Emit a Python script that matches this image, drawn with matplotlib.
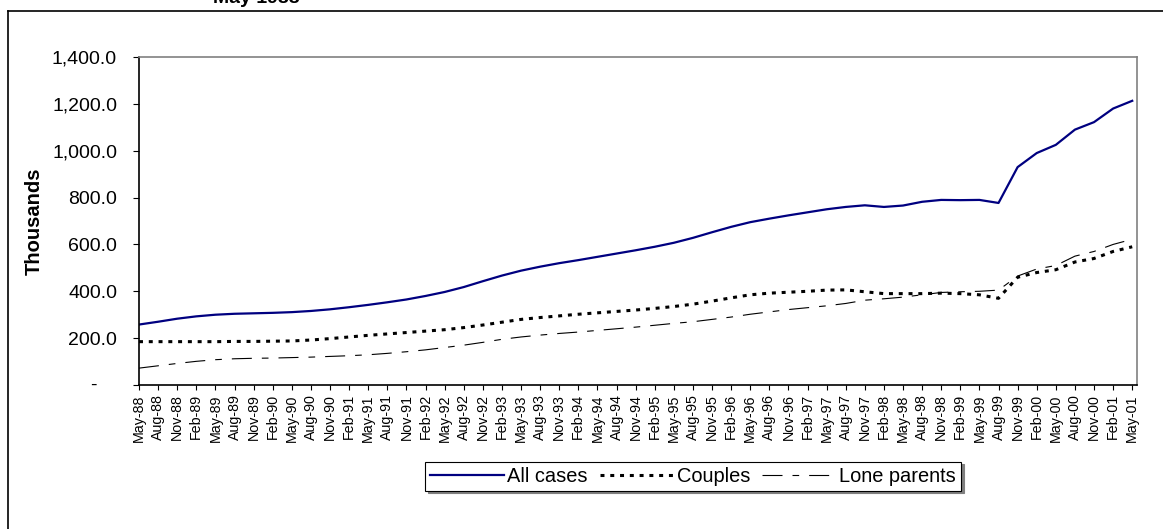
import matplotlib
matplotlib.use('Agg')
import matplotlib.pyplot as plt
from matplotlib.lines import Line2D
from matplotlib.ticker import FixedLocator, FixedFormatter

plt.rcParams['font.family'] = ['Liberation Sans', 'DejaVu Sans']

# quarterly points, May-88 to May-01
months = ['May', 'Aug', 'Nov', 'Feb']
quarters = []
for k in range(53):
    m = months[k % 4]
    yr = 88 + (k + 1) // 4 if m == 'Feb' else 88 + k // 4
    quarters.append(f'{m}-{yr % 100:02d}')

# thousands
all_cases = [258, 270, 283, 293, 300, 304, 306, 308, 311, 316,
             323, 332, 342, 353, 365, 380, 397, 418, 443, 467,
             488, 505, 520, 533, 547, 561, 575, 590, 607, 628,
             652, 675, 695, 710, 724, 737, 750, 760, 767, 760,
             766, 782, 790, 789, 790, 777, 930, 990, 1025, 1090,
             1122, 1180, 1213]
couples = [185, 185, 185, 185, 185, 186, 186, 187, 188, 192,
           198, 205, 212, 218, 224, 230, 236, 245, 256, 268,
           280, 288, 295, 302, 308, 314, 320, 327, 335, 345,
           358, 372, 385, 392, 396, 400, 405, 406, 398, 390,
           390, 390, 392, 390, 385, 370, 460, 480, 492, 525,
           540, 570, 590]
lone_parents = [72, 82, 92, 101, 108, 112, 114, 115, 117, 119,
                122, 125, 129, 135, 142, 150, 160, 170, 182, 195,
                205, 213, 220, 226, 233, 240, 247, 255, 263, 270,
                280, 290, 302, 312, 322, 330, 338, 348, 362, 368,
                375, 385, 395, 398, 400, 405, 465, 495, 510, 550,
                570, 600, 622]

y_ticks = [0, 200, 400, 600, 800, 1000, 1200, 1400]

W, H = 1163, 529
fig = plt.figure(figsize=(W / 100, H / 100), dpi=100)
fig.patch.set_facecolor('white')

# outer chart frame (cut by the image edge)
fig.add_artist(Line2D([8 / W, 1], [1 - 11 / H, 1 - 11 / H], color='black', lw=1.2))
fig.add_artist(Line2D([8 / W, 8 / W], [0, 1 - 11 / H], color='black', lw=1.2))

# title, mostly cropped at the top
fig.text(213 / W, 1 - 3 / H, 'May 1988', fontsize=14, fontweight='bold',
         va='baseline', ha='left')

ax = fig.add_axes([139 / W, 1 - 385 / H, (1137 - 139) / W, (385 - 57) / H])
x = list(range(len(quarters)))

ax.plot(x, all_cases, color='#000080', lw=1.6, label='All cases')
ax.plot(x, couples, color='black', lw=2.2, linestyle=(0, (1.3, 1.9)),
        label='Couples')
ax.plot(x, lone_parents, color='black', lw=0.8,
        linestyle=(0, (18, 9, 6, 9)), label='Lone parents')

ax.set_xlim(0, 52.25)
ax.set_ylim(0, 1400)

ax.xaxis.set_major_locator(FixedLocator(x))
ax.xaxis.set_major_formatter(FixedFormatter(quarters))
ax.tick_params(axis='x', direction='out', length=3.6, width=0.8,
               labelsize=10.3, rotation=90, pad=3)

ax.yaxis.set_major_locator(FixedLocator(y_ticks))
ax.yaxis.set_major_formatter(FixedFormatter(
    [''] + [f'{v:,.1f}' for v in y_ticks[1:]]))
ax.tick_params(axis='y', direction='out', length=4.3, width=0.8,
               labelsize=14, pad=11.5)
# Excel accounting zero
ax.annotate('-', xy=(0, 0), xycoords=('axes fraction', 'data'),
            xytext=(-33, 0), textcoords='offset points',
            ha='center', va='center', fontsize=14)

ax.set_ylabel('Thousands', fontsize=14.5, fontweight='bold')
ax.yaxis.set_label_coords(-(139 - 44) / (1137 - 139), 0.5)

ax.spines['left'].set_color('black')
ax.spines['bottom'].set_color('black')
ax.spines['top'].set_color('#808080')
ax.spines['right'].set_color('#808080')
for s in ax.spines.values():
    s.set_linewidth(1.2)

leg = fig.legend(loc='center', bbox_to_anchor=(693 / W, 1 - 476 / H), ncol=3,
                 fontsize=14.4, frameon=True, fancybox=False,
                 handlelength=3.7, handletextpad=0.15, columnspacing=0.6,
                 borderpad=0.25, borderaxespad=0,
                 shadow={'color': '#808080', 'alpha': 1})
leg.get_frame().set_edgecolor('black')
leg.get_frame().set_linewidth(0.8)

fig.savefig('out.png', dpi=100)
